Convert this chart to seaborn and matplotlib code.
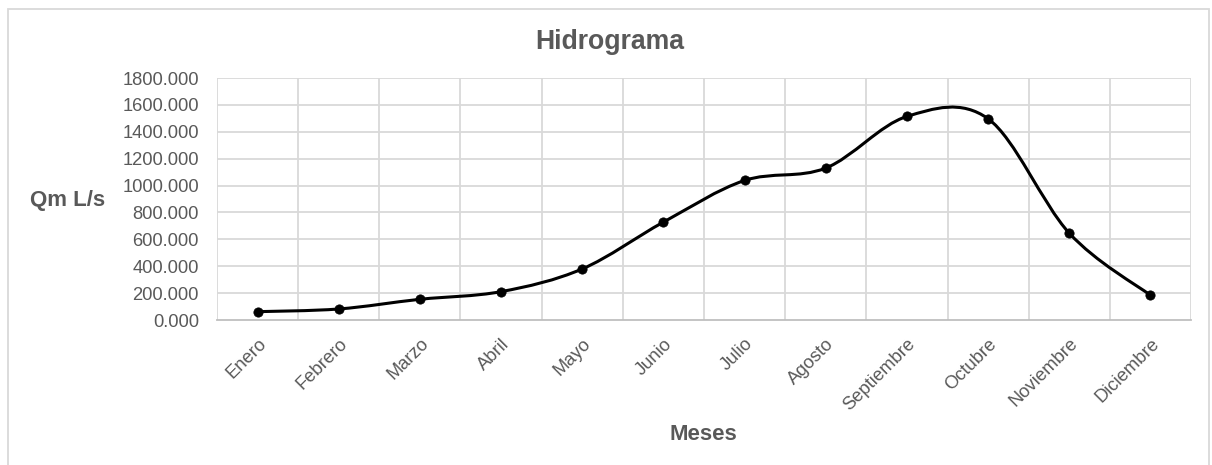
import numpy as np
import pandas as pd
import seaborn as sns
import matplotlib
matplotlib.use("Agg")
import matplotlib.pyplot as plt
from matplotlib.path import Path
from matplotlib.patches import PathPatch, Rectangle

months = ["Enero", "Febrero", "Marzo", "Abril", "Mayo", "Junio", "Julio",
          "Agosto", "Septiembre", "Octubre", "Noviembre", "Diciembre"]
flow = [62, 82, 154, 211, 380, 728, 1038, 1130, 1514, 1497, 646, 184]
yticks = [0, 200, 400, 600, 800, 1000, 1200, 1400, 1600, 1800]

sns.set_theme(style="white")
plt.rcParams['font.family'] = ['Liberation Sans', 'DejaVu Sans']

W, H = 1212, 465
fig = plt.figure(figsize=(W / 100, H / 100), dpi=100)
fig.patch.set_facecolor("white")
ax = fig.add_axes([217 / W, 1 - 320 / H, (1191 - 217) / W, (320 - 78) / H])

df = pd.DataFrame({"mes": np.arange(len(months)), "q": flow})

# Excel-style smoothed line (cubic Bezier through the points)
x = df["mes"].to_numpy(float)
y = df["q"].to_numpy(float)
n = len(x)
verts = [(x[0], y[0])]
codes = [Path.MOVETO]
for i in range(n - 1):
    p0 = np.array([x[max(i - 1, 0)], y[max(i - 1, 0)]])
    p1 = np.array([x[i], y[i]])
    p2 = np.array([x[i + 1], y[i + 1]])
    p3 = np.array([x[min(i + 2, n - 1)], y[min(i + 2, n - 1)]])
    c1 = p1 + (p2 - p0) / 6.0
    c2 = p2 - (p3 - p1) / 6.0
    verts += [tuple(c1), tuple(c2), tuple(p2)]
    codes += [Path.CURVE4, Path.CURVE4, Path.CURVE4]
ax.add_patch(PathPatch(Path(verts, codes), facecolor="none", edgecolor="black",
                       lw=2.2, zorder=3, capstyle="round", joinstyle="round"))

sns.scatterplot(data=df, x="mes", y="q", ax=ax, color="black", s=45,
                edgecolor="black", linewidth=0.5, zorder=4, legend=False)

ax.set_xlim(-0.5, len(months) - 0.5)
ax.set_ylim(0, 1800)
ax.set_yticks(yticks)
ax.set_yticklabels([f"{v:.3f}" for v in yticks])
ax.set_xticks(np.arange(len(months)))
ax.set_xticklabels(months, rotation=45, ha="right", va="top",
                   rotation_mode="anchor")
ax.tick_params(axis="both", length=0, labelsize=13.2, colors="#595959")
ax.tick_params(axis="x", pad=11)
ax.tick_params(axis="y", pad=13)

grid_c = "#d9d9d9"
for v in yticks[1:]:
    ax.axhline(v, color=grid_c, lw=1.3, zorder=1)
for b in np.arange(-0.5, len(months), 1.0):
    ax.axvline(b, color=grid_c, lw=1.3, zorder=1)
for s in ["top", "right", "left"]:
    ax.spines[s].set_visible(False)
ax.spines["bottom"].set_color("#bfbfbf")
ax.spines["bottom"].set_linewidth(1.3)
ax.set_xlabel("")
ax.set_ylabel("")

fig.text(610 / W, 1 - 42 / H, "Hidrograma", ha="center", va="center",
         fontsize=19.2, fontweight="bold", color="#595959")
fig.text(67.5 / W, 1 - 200 / H, "Qm L/s", ha="center", va="center",
         fontsize=16, fontweight="bold", color="#595959")
fig.text(703 / W, 1 - 435 / H, "Meses", ha="center", va="center",
         fontsize=16, fontweight="bold", color="#595959")

fig.patches.append(Rectangle((8 / W, -0.05), (1209 - 8) / W, 1.05 - 9 / H,
                             transform=fig.transFigure, facecolor="none",
                             edgecolor="#d9d9d9", lw=1.3))

fig.savefig("out.png", dpi=100, facecolor="white")
